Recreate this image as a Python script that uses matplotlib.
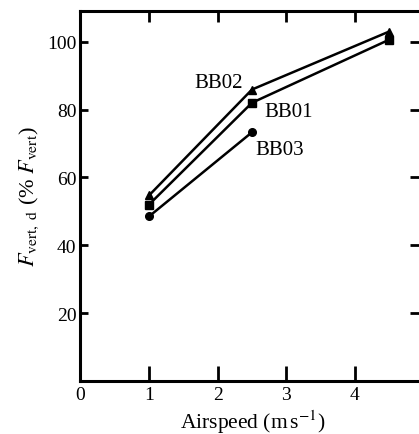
import matplotlib.pyplot as plt

plt.rcParams['font.family'] = ['Liberation Serif', 'DejaVu Serif']
plt.rcParams['mathtext.fontset'] = 'stix'

# Dados
vel = [1.0, 2.5, 4.5]
bb01 = [52.0, 82.0, 100.6]
bb02 = [54.7, 85.9, 103.0]
vel03 = [1.0, 2.5]
bb03 = [48.5, 73.3]

fig = plt.figure(figsize=(4.19, 4.35), dpi=100)
ax = fig.add_axes([0.192, 0.122, 0.822, 0.850])

ax.plot(vel, bb02, color='black', lw=1.8, marker='^', ms=5.5)
ax.plot(vel, bb01, color='black', lw=1.8, marker='s', ms=5.5)
ax.plot(vel03, bb03, color='black', lw=1.8, marker='o', ms=5.5)

# Rótulos das séries
ax.text(2.01, 87.9, 'BB02', ha='center', va='center', fontsize=15)
ax.text(3.03, 79.4, 'BB01', ha='center', va='center', fontsize=15)
ax.text(2.90, 68.2, 'BB03', ha='center', va='center', fontsize=15)

ax.set_xlim(0, 5.02)
ax.set_ylim(0, 109)
ax.set_xticks([0, 1, 2, 3, 4])
ax.set_yticks([20, 40, 60, 80, 100])
ax.tick_params(direction='in', width=2, top=True, right=True, labelsize=14)
ax.tick_params(axis='x', length=11, pad=4)
ax.tick_params(axis='y', length=6, pad=3)
for t in ax.xaxis.get_major_ticks():
    t.tick2line.set_markersize(8)
for t in ax.yaxis.get_major_ticks():
    t.tick2line.set_markersize(11)
for s in ax.spines.values():
    s.set_linewidth(2.2)

ax.set_xlabel(r'Airspeed (m$\,$s$^{-1}$)', fontsize=15.5, labelpad=3)
ax.set_ylabel(r'$F_{\mathrm{vert,\ d}}$ (% $F_{\mathrm{vert}}$)', fontsize=16, labelpad=4)

plt.savefig('out.png', dpi=100)
